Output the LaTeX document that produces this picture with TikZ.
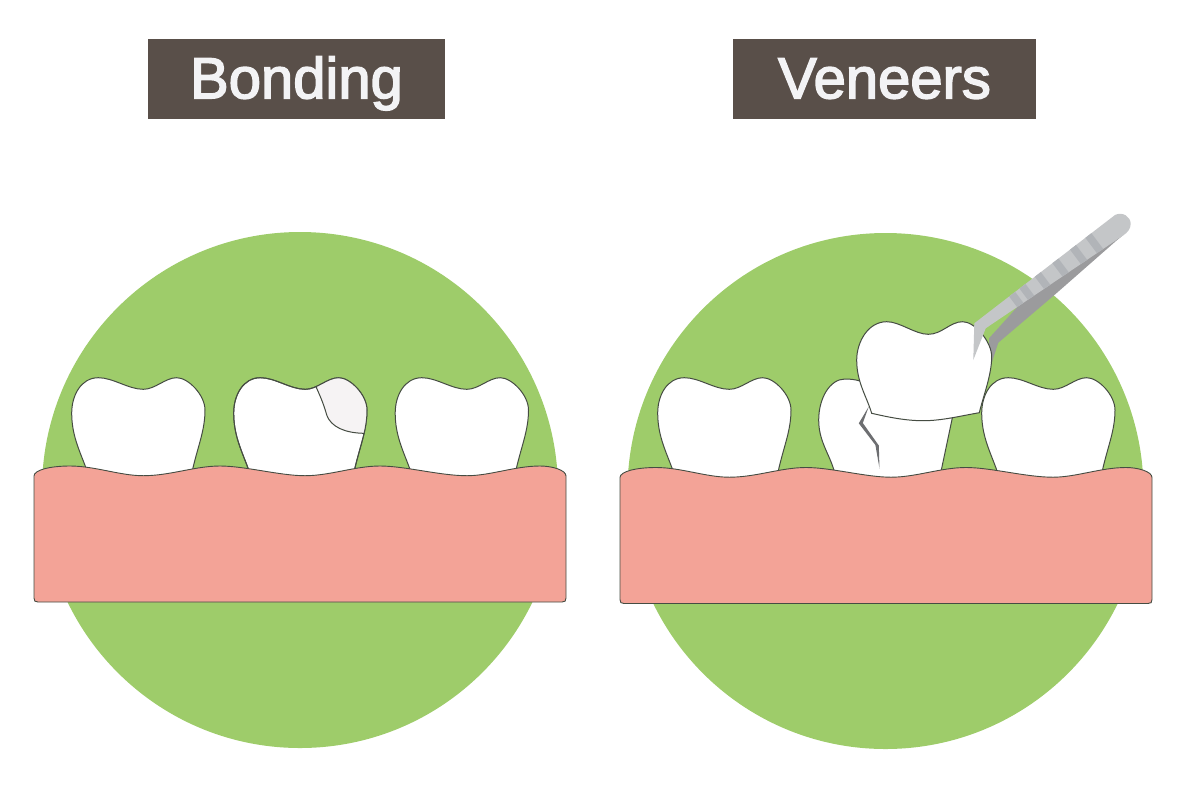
\documentclass[tikz,border=0pt]{standalone}
\usepackage{fontspec}
\setmainfont{Liberation Sans}
\newfontfamily\titlefont[FakeBold=2.6]{Liberation Sans}
\definecolor{leaf}{HTML}{9ECC6A}
\definecolor{gum}{HTML}{F3A397}
\definecolor{plate}{HTML}{594F49}
\definecolor{titletext}{HTML}{F3F3F5}
\definecolor{outline}{HTML}{454C42}
\definecolor{patch}{HTML}{F6F3F4}
\definecolor{steel}{HTML}{C4C6C8}
\definecolor{steeldark}{HTML}{9B9B9D}
\definecolor{steelband}{HTML}{B1B4B8}
\definecolor{crack}{HTML}{6D6E71}
% One crown outline, x measured from the dip in the chewing surface; the root end runs under the gum
\def\toothoutline{(-53,481) -- (-57.3,468) .. controls (-64,450) and (-71.6,435) .. (-71.6,413)
  .. controls (-71.6,395) and (-62,377.7) .. (-45,377.7)
  .. controls (-30,377.7) and (-15,389.3) .. (0,389.3)
  .. controls (12,389.3) and (22,377.7) .. (33.4,377.7)
  .. controls (45,377.7) and (61.7,395) .. (61.7,410)
  .. controls (61.7,430) and (55,445) .. (49.4,469) -- (47,481) -- cycle}
% Gum strip with a wavy upper edge
\def\gumoutline{(34,480) -- (34,476) .. controls (34,470) and (50,466) .. (70,466)
  .. controls (95,466) and (120,475.7) .. (143.3,475.7)
  .. controls (170,475.7) and (195,466) .. (220,466)
  .. controls (245,466) and (280,475.7) .. (305,475.7)
  .. controls (330,475.7) and (355,466) .. (380,466)
  .. controls (405,466) and (440,475.7) .. (467,475.7)
  .. controls (490,475.7) and (515,466) .. (540,466)
  .. controls (552,466) and (566,470) .. (566,476)
  -- (566,598) .. controls (566,601) and (565,602) .. (562,602)
  -- (38,602) .. controls (35,602) and (34,601) .. (34,598) -- cycle}
\tikzset{
  toothline/.style={draw=outline,line width=0.5pt,fill=white},
  gumstrip/.style={draw=outline,line width=0.45pt,fill=gum},
  titleplate/.style={fill=plate,text=titletext,minimum height=40pt,inner sep=0pt,
    text height=25pt,text depth=5.7pt,font=\titlefont\fontsize{29}{29}\selectfont},
  pics/tooth/.style={code={\path[toothline] \toothoutline;}}
}
\begin{document}
\begin{tikzpicture}[x=0.5pt,y=-0.5pt]
\useasboundingbox (0,0) rectangle (1200,800);

\node[titleplate,minimum width=148.5pt] (bonding) at (296.5,79) {Bonding};
\node[titleplate,minimum width=151.5pt] (veneers) at (884.5,79) {Veneers};

% Left panel
\fill[leaf] (300,490) circle[radius=258];
\pic at (143.3,0) {tooth};
\pic at (305.3,0) {tooth};
\pic at (466.8,0) {tooth};
\begin{scope}
  \clip[shift={(305.3,0)}] \toothoutline;
  \path[fill=patch,draw=outline,line width=0.5pt]
    (316.7,388.3) .. controls (321,398) and (324,405) .. (326.7,415)
    .. controls (331,427) and (345,433) .. (364,433.3)
    -- (380,433.3) -- (380,370) -- (316,370) -- cycle;
\end{scope}
\path[draw=outline,line width=0.5pt,shift={(305.3,0)}] \toothoutline;
\path[gumstrip] \gumoutline;

% Right panel
\fill[leaf] (885.5,491) circle[radius=258];
\pic at (729.3,0) {tooth};
\pic at (1053.3,0) {tooth};
% Prepared stump with its fracture line
\path[toothline] (837,481) -- (833.3,468) .. controls (828,452) and (818.7,440) .. (818.7,420)
  .. controls (818.7,398) and (830,379) .. (845,379)
  .. controls (850,379) and (855,379.5) .. (860,381)
  -- (952.3,418) -- (939,481) -- cycle;
\fill[crack] (868.8,406.5) -- (858.8,423.3) -- (875.4,445) -- (879.5,468.5)
  -- (878.8,445.5) -- (862.8,423) -- cycle;
\begin{scope}[shift={(586,1.5)}]
  \path[gumstrip] \gumoutline;
\end{scope}

% Far arm of the tweezers, behind the veneer
\fill[steeldark] (1123.3,235) -- (1116,241) -- (1055,294.5) -- (998.3,342.7) -- (990,368) -- (989,338.3)
  -- (1020,304) -- (1060,275) -- cycle;

% Veneer held above the stump
\path[toothline] (871.7,413.3) .. controls (888,417) and (905,420.7) .. (923.3,420.7)
  .. controls (942,420.7) and (960,416) .. (979.3,412.7)
  .. controls (983,397) and (991.7,375) .. (991.7,356.7)
  .. controls (991.7,342) and (975,321.7) .. (962.7,321.7)
  .. controls (950,321.7) and (942,334.3) .. (928.3,334.3)
  .. controls (915,334.3) and (900,321.7) .. (886.7,321.7)
  .. controls (868,321.7) and (856.7,342) .. (856.7,360)
  .. controls (856.7,382) and (866,395) .. (871.7,413.3) -- cycle;

% Near arm of the tweezers, with its grip bands
\def\neararm{(1115,215) .. controls (1122,211.5) and (1130.7,216) .. (1130.7,224)
  .. controls (1130.7,229) and (1127,233) .. (1123.3,235.3)
  -- (985.7,328.3) -- (973.3,360) -- (974.3,323.3) -- cycle}
\fill[steel] \neararm;
\begin{scope}
  \clip \neararm;
  \foreach \cx/\cy in {1093.3/242,1078/254,1060/267,1042/280,1026/291,1015/298}
    \draw[steelband,line width=3.8pt] (\cx-12,\cy-16) -- (\cx+12,\cy+16);
\end{scope}
\end{tikzpicture}
\end{document}
